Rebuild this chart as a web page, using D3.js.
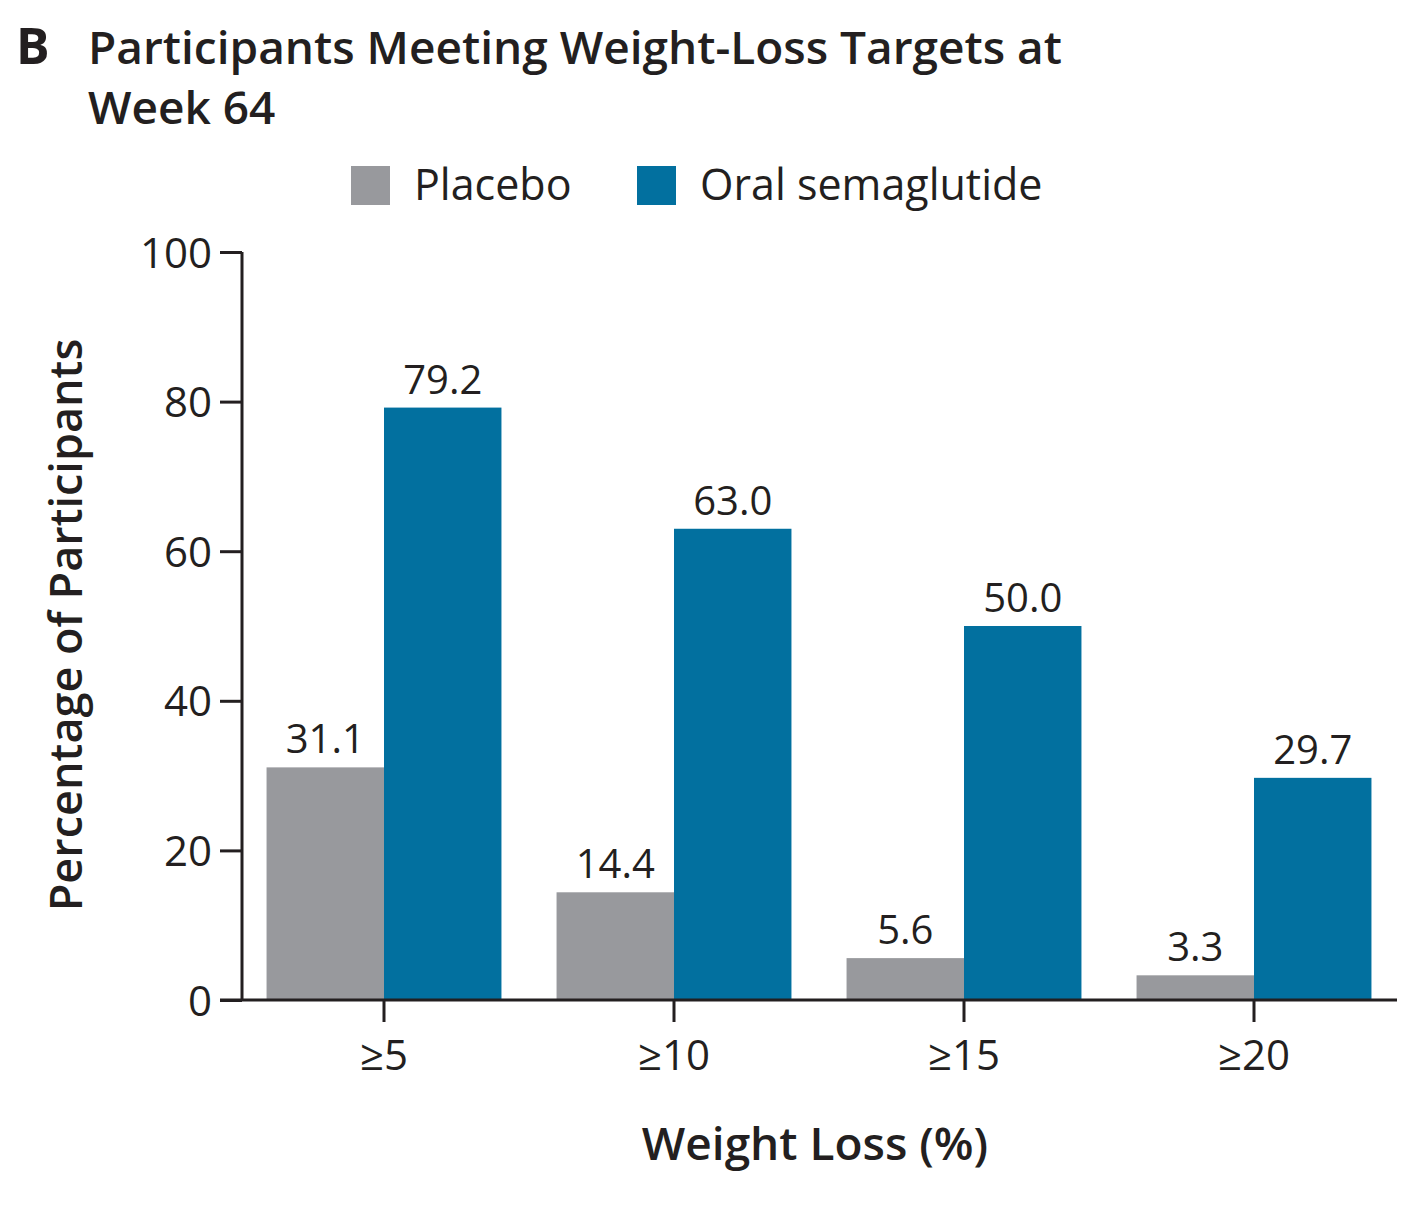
<!DOCTYPE html>
<html>
<head>
<meta charset="utf-8">
<script src="https://cdn.jsdelivr.net/npm/d3@7"></script>
<style>
  html, body { margin: 0; padding: 0; background: #fff; }
  svg { display: block; font-family: "Open Sans", "DejaVu Sans", sans-serif; }
</style>
</head>
<body>
<div id="chart"></div>
<script>
// categorias do eixo x
const categorias = ["≥5", "≥10", "≥15", "≥20"];
const series = ["Placebo", "Oral semaglutide"];
const placebo = [31.1, 14.4, 5.6, 3.3];
const semaglutida = [79.2, 63.0, 50.0, 29.7];
const yTicks = [0, 20, 40, 60, 80, 100];
const cores = ["#98999d", "#02709f"];

const width = 1422, height = 1220;
const margins = { top: 252, right: 24, bottom: 220, left: 242 };
const tickLen = 22;

const svg = d3.select("#chart").append("svg")
    .attr("width", width)
    .attr("height", height);

// Escalas
const yScale = d3.scaleLinear()
    .domain([0, 100])
    .range([height - margins.bottom, margins.top]);

const xScale = d3.scaleBand()
    .domain(categorias)
    .range([239, 1399])
    .paddingInner(0.19)
    .paddingOuter(0.095);

const xSub = d3.scaleBand()
    .domain(series)
    .range([0, xScale.bandwidth()]);

const dados = categorias.map((c, i) => ({
    cat: c,
    valores: [
        { serie: series[0], v: placebo[i] },
        { serie: series[1], v: semaglutida[i] }
    ]
}));

const y0 = yScale(0);

// Titulo
svg.append("text")
    .attr("x", 16).attr("y", 64)
    .attr("font-size", 50).attr("font-weight", 700)
    .attr("fill", "#231f20")
    .text("B");

const titulo = svg.append("text")
    .attr("font-size", 46).attr("font-weight", 600)
    .attr("fill", "#231f20");
titulo.append("tspan").attr("x", 88).attr("y", 64)
    .text("Participants Meeting Weight-Loss Targets at");
titulo.append("tspan").attr("x", 88).attr("y", 124)
    .text("Week 64");

// Legenda
const legX = [351, 637];
series.forEach((s, i) => {
    const g = svg.append("g").attr("transform", `translate(${legX[i]}, 166)`);
    g.append("rect").attr("width", 39).attr("height", 39).attr("fill", cores[i]);
    g.append("text")
        .attr("x", 63).attr("y", 34)
        .attr("font-size", 43)
        .attr("fill", "#231f20")
        .text(s);
});

// Barras
const grupos = svg.append("g").selectAll("g")
    .data(dados)
    .join("g")
    .attr("transform", d => `translate(${xScale(d.cat)}, 0)`);

grupos.selectAll("rect")
    .data(d => d.valores)
    .join("rect")
    .attr("x", d => xSub(d.serie))
    .attr("y", d => yScale(d.v))
    .attr("width", xSub.bandwidth())
    .attr("height", d => y0 - yScale(d.v))
    .attr("fill", (d, i) => cores[i]);

grupos.selectAll("text")
    .data(d => d.valores)
    .join("text")
    .attr("x", d => xSub(d.serie) + xSub.bandwidth() / 2)
    .attr("y", d => yScale(d.v) - 14)
    .attr("text-anchor", "middle")
    .attr("font-size", 40)
    .attr("fill", "#231f20")
    .text(d => d.v.toFixed(1));

// Eixos
const eixoY = svg.append("g")
    .attr("transform", `translate(${margins.left}, 0)`)
    .call(d3.axisLeft(yScale).tickValues(yTicks).tickSize(tickLen).tickPadding(8).tickSizeOuter(0));
eixoY.select(".domain")
    .attr("d", `M0,${yScale(100)}V${y0}`);

const eixoX = svg.append("g")
    .attr("transform", `translate(0, ${y0})`)
    .call(d3.axisBottom(xScale).tickSize(tickLen).tickPadding(18).tickSizeOuter(0));
eixoX.select(".domain")
    .attr("d", `M${margins.left - tickLen},0H${width - margins.right - 1}`);

[eixoY, eixoX].forEach(e => {
    e.selectAll(".domain, .tick line")
        .attr("stroke", "#231f20")
        .attr("stroke-width", 3);
    e.selectAll(".tick text")
        .attr("font-size", 42)
        .attr("font-family", "'Open Sans', sans-serif")
        .attr("fill", "#231f20");
});
eixoY.selectAll(".tick text").attr("dy", "0.36em");

// Rotulos dos eixos
svg.append("text")
    .attr("x", 815).attr("y", 1160)
    .attr("text-anchor", "middle")
    .attr("font-size", 46).attr("font-weight", 600)
    .attr("fill", "#231f20")
    .text("Weight Loss (%)");

svg.append("text")
    .attr("transform", "translate(82, 625) rotate(-90)")
    .attr("text-anchor", "middle")
    .attr("font-size", 45).attr("font-weight", 600)
    .attr("fill", "#231f20")
    .text("Percentage of Participants");
</script>
</body>
</html>
